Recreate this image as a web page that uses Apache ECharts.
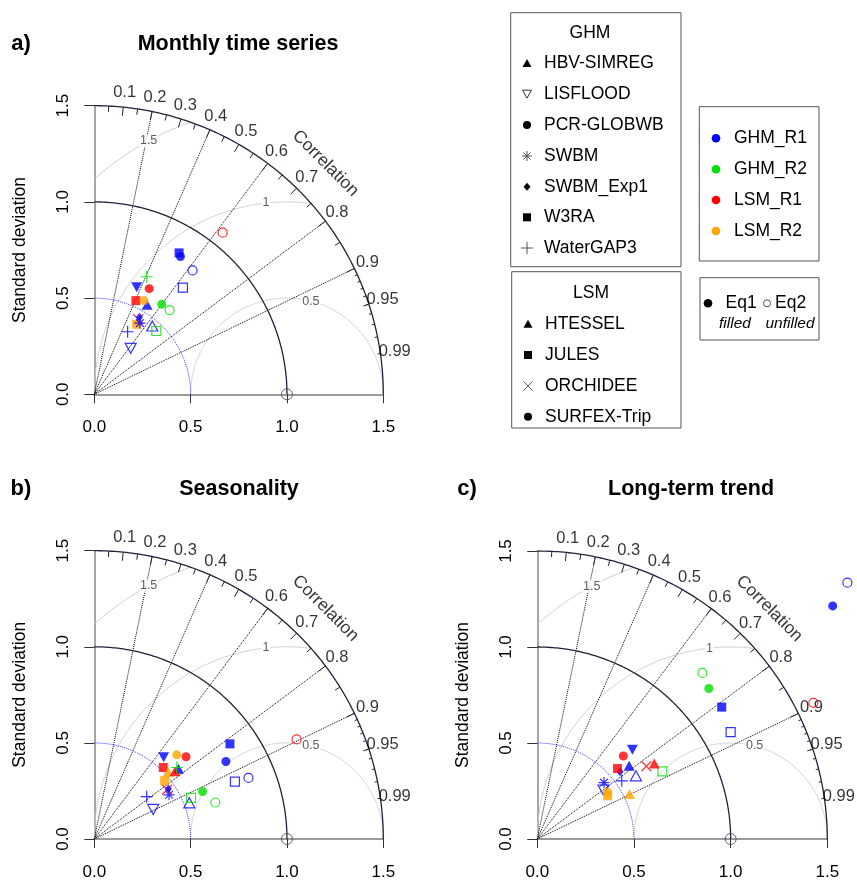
<!DOCTYPE html>
<html><head><meta charset="utf-8">
<script src="https://cdn.jsdelivr.net/npm/echarts@6/dist/echarts.min.js"></script>
<style>html,body{margin:0;padding:0;background:#fff}#c{width:857px;height:881px}</style>
</head><body><div id="c"></div>
<script>
// ---------------- data ----------------
const sdTicks = [0, 0.5, 1.0, 1.5];
const corrLines = [0.2, 0.4, 0.6, 0.8, 0.9];
const corrLabels = [0.1, 0.2, 0.3, 0.4, 0.5, 0.6, 0.7, 0.8, 0.9, 0.95, 0.99];
const corrBigTicks = [0.1, 0.2, 0.3, 0.4, 0.5, 0.6, 0.7, 0.8, 0.9];
const corrMedTicks = [0.05, 0.15, 0.25, 0.35, 0.45, 0.55, 0.65, 0.75, 0.85, 0.95];
const corrSmallTicks = [0.91, 0.92, 0.93, 0.94, 0.95, 0.96, 0.97, 0.98, 0.99];
const rmsLevels = [0.5, 1, 1.5];
const refSd = 1.0;
const maxSd = 1.5;
const panelTitles = ['Monthly time series', 'Seasonality', 'Long-term trend'];
const panelTags = ['a)', 'b)', 'c)'];
const ghmModels = ['HBV-SIMREG', 'LISFLOOD', 'PCR-GLOBWB', 'SWBM', 'SWBM_Exp1', 'W3RA', 'WaterGAP3'];
const lsmModels = ['HTESSEL', 'JULES', 'ORCHIDEE', 'SURFEX-Trip'];
const groupNames = ['GHM_R1', 'GHM_R2', 'LSM_R1', 'LSM_R2'];

// [model, group, equation (1 = Eq1 filled, 2 = Eq2 unfilled), x, y]
const monthlyPoints = [
  ['W3RA', 'GHM_R1', 2, 0.46, 0.554],
  ['PCR-GLOBWB', 'GHM_R1', 2, 0.51, 0.644],
  ['HBV-SIMREG', 'GHM_R1', 2, 0.301, 0.355],
  ['LISFLOOD', 'GHM_R1', 2, 0.189, 0.239],
  ['WaterGAP3', 'GHM_R1', 1, 0.173, 0.325],
  ['HBV-SIMREG', 'GHM_R1', 1, 0.274, 0.466],
  ['LISFLOOD', 'GHM_R1', 1, 0.22, 0.556],
  ['W3RA', 'GHM_R1', 1, 0.44, 0.735],
  ['PCR-GLOBWB', 'GHM_R1', 1, 0.447, 0.716],
  ['WaterGAP3', 'GHM_R2', 1, 0.272, 0.611],
  ['PCR-GLOBWB', 'GHM_R2', 1, 0.35, 0.468],
  ['PCR-GLOBWB', 'GHM_R2', 2, 0.391, 0.438],
  ['W3RA', 'GHM_R2', 2, 0.322, 0.329],
  ['SURFEX-Trip', 'LSM_R1', 2, 0.666, 0.84],
  ['SURFEX-Trip', 'LSM_R1', 1, 0.285, 0.549],
  ['JULES', 'LSM_R1', 1, 0.216, 0.487],
  ['ORCHIDEE', 'LSM_R1', 1, 0.228, 0.39],
  ['JULES', 'LSM_R2', 1, 0.22, 0.364],
  ['SURFEX-Trip', 'LSM_R2', 1, 0.258, 0.487],
  ['SWBM', 'GHM_R1', 1, 0.237, 0.37],
  ['SWBM_Exp1', 'GHM_R1', 1, 0.234, 0.40]
];
const seasonalPoints = [
  ['W3RA', 'GHM_R1', 2, 0.73, 0.298],
  ['PCR-GLOBWB', 'GHM_R1', 2, 0.8, 0.318],
  ['HBV-SIMREG', 'GHM_R1', 2, 0.493, 0.188],
  ['LISFLOOD', 'GHM_R1', 2, 0.306, 0.154],
  ['WaterGAP3', 'GHM_R1', 1, 0.272, 0.22],
  ['SWBM', 'GHM_R1', 1, 0.388, 0.23],
  ['W3RA', 'GHM_R1', 1, 0.704, 0.495],
  ['PCR-GLOBWB', 'GHM_R1', 1, 0.683, 0.403],
  ['LISFLOOD', 'GHM_R1', 1, 0.36, 0.425],
  ['W3RA', 'GHM_R2', 2, 0.502, 0.214],
  ['PCR-GLOBWB', 'GHM_R2', 2, 0.628, 0.19],
  ['PCR-GLOBWB', 'GHM_R2', 1, 0.562, 0.247],
  ['SURFEX-Trip', 'LSM_R1', 2, 1.05, 0.518],
  ['SURFEX-Trip', 'LSM_R1', 1, 0.476, 0.428],
  ['JULES', 'LSM_R1', 1, 0.358, 0.372],
  ['ORCHIDEE', 'LSM_R1', 1, 0.378, 0.256],
  ['SURFEX-Trip', 'LSM_R2', 1, 0.428, 0.438],
  ['HTESSEL', 'LSM_R2', 1, 0.384, 0.35],
  ['JULES', 'LSM_R2', 1, 0.365, 0.304],
  ['HBV-SIMREG', 'GHM_R1', 1, 0.437, 0.366],
  ['HTESSEL', 'LSM_R1', 1, 0.419, 0.352],
  ['WaterGAP3', 'GHM_R2', 1, 0.428, 0.372],
  ['SWBM_Exp1', 'GHM_R1', 1, 0.384, 0.26]
];
const trendPoints = [
  ['PCR-GLOBWB', 'GHM_R1', 2, 1.604, 1.335],
  ['PCR-GLOBWB', 'GHM_R1', 1, 1.528, 1.214],
  ['W3RA', 'GHM_R1', 1, 0.954, 0.687],
  ['W3RA', 'GHM_R1', 2, 1.0, 0.557],
  ['LISFLOOD', 'GHM_R1', 1, 0.492, 0.465],
  ['HBV-SIMREG', 'GHM_R1', 1, 0.475, 0.382],
  ['SWBM_Exp1', 'GHM_R1', 1, 0.428, 0.35],
  ['HBV-SIMREG', 'GHM_R1', 2, 0.51, 0.329],
  ['WaterGAP3', 'GHM_R1', 1, 0.437, 0.303],
  ['SWBM', 'GHM_R1', 1, 0.345, 0.294],
  ['LISFLOOD', 'GHM_R1', 2, 0.342, 0.255],
  ['PCR-GLOBWB', 'GHM_R2', 2, 0.854, 0.865],
  ['PCR-GLOBWB', 'GHM_R2', 1, 0.887, 0.784],
  ['W3RA', 'GHM_R2', 2, 0.647, 0.352],
  ['SURFEX-Trip', 'LSM_R1', 2, 1.428, 0.709],
  ['SURFEX-Trip', 'LSM_R1', 1, 0.445, 0.432],
  ['JULES', 'LSM_R1', 1, 0.415, 0.367],
  ['ORCHIDEE', 'LSM_R1', 1, 0.564, 0.379],
  ['HTESSEL', 'LSM_R1', 1, 0.605, 0.393],
  ['JULES', 'LSM_R2', 1, 0.364, 0.225],
  ['SURFEX-Trip', 'LSM_R2', 1, 0.364, 0.243],
  ['HTESSEL', 'LSM_R2', 1, 0.477, 0.235]
];

// ---------------- styles / layout ----------------
const FONT = '"Liberation Sans", Arial, Helvetica, sans-serif';
const groupColor = { GHM_R1: '#0000ff', GHM_R2: '#00e000', LSM_R1: '#ff0000', LSM_R2: '#ffa500' };
const modelShape = {
  'HBV-SIMREG': 'tri', 'HTESSEL': 'tri', 'LISFLOOD': 'invtri', 'PCR-GLOBWB': 'circle',
  'SURFEX-Trip': 'circle', 'SWBM': 'asterisk', 'SWBM_Exp1': 'diamond', 'W3RA': 'square',
  'JULES': 'square', 'WaterGAP3': 'plus', 'ORCHIDEE': 'cross'
};
const legendShapeGHM = { 'HBV-SIMREG': ['tri', true], 'LISFLOOD': ['invtri', false], 'PCR-GLOBWB': ['circle', true],
  'SWBM': ['asterisk', true], 'SWBM_Exp1': ['diamond', true], 'W3RA': ['square', true], 'WaterGAP3': ['plus', true] };
const legendShapeLSM = { 'HTESSEL': ['tri', true], 'JULES': ['square', true], 'ORCHIDEE': ['cross', true], 'SURFEX-Trip': ['circle', true] };

const panelLayout = [
  { grid: { left: 94.3, top: 105.7, width: 289, height: 288.6 }, titleX: 238, titleY: 44, tagX: 21 },
  { grid: { left: 94.3, top: 550.7, width: 289, height: 288.6 }, titleX: 239, titleY: 489, tagX: 21 },
  { grid: { left: 537.3, top: 551, width: 290, height: 289 }, titleX: 691, titleY: 489, tagX: 467 }
];
const panelPoints = [monthlyPoints, seasonalPoints, trendPoints];

const PATHS = {
  plus: 'path://M5,0L5,10M0,5L10,5',
  cross: 'path://M0,0L10,10M10,0L0,10',
  asterisk: 'path://M5,0L5,10M0,5L10,5M1.5,1.5L8.5,8.5M8.5,1.5L1.5,8.5'
};

function pointItem(p) {
  const [model, group, eq, x, y] = p;
  const c = groupColor[group];
  const shape = modelShape[model];
  const filled = eq === 1;
  const fillStyle = filled ? { color: c, borderWidth: 0 } : { color: 'none', borderColor: c, borderWidth: 1.2 };
  const item = { value: [x, y], name: model + ' ' + group };
  switch (shape) {
    case 'circle': item.symbol = 'circle'; item.symbolSize = 9; item.itemStyle = fillStyle; break;
    case 'square': item.symbol = 'rect'; item.symbolSize = 9; item.itemStyle = fillStyle; break;
    case 'tri': item.symbol = 'triangle'; item.symbolSize = [11, 10]; item.itemStyle = fillStyle; break;
    case 'invtri': item.symbol = 'triangle'; item.symbolSize = [11, 10]; item.symbolRotate = 180; item.itemStyle = fillStyle; break;
    case 'diamond': item.symbol = 'diamond'; item.symbolSize = [7, 9]; item.itemStyle = { color: c }; break;
    default:
      item.symbol = PATHS[shape];
      item.symbolSize = shape === 'plus' ? 12 : (shape === 'cross' ? 10 : 11);
      item.itemStyle = { color: 'none', borderColor: c, borderWidth: 1.2 };
  }
  return item;
}

function polar(sd, r) { return [sd * r, sd * Math.sqrt(Math.max(0, 1 - r * r))]; }
function arc(cx, cy, rad, t0, t1, step) {
  const out = [];
  for (let t = t0; t <= t1 + 1e-9; t += step) out.push([cx + rad * Math.cos(t), cy + rad * Math.sin(t)]);
  out.push([cx + rad * Math.cos(t1), cy + rad * Math.sin(t1)]);
  return out;
}
function rmsArc(g) {
  const pts = [];
  for (let t = 0; t <= Math.PI + 1e-9; t += 0.004) {
    const x = refSd + g * Math.cos(t), y = g * Math.sin(t);
    if (x >= 0 && x * x + y * y <= maxSd * maxSd + 1e-9) pts.push([x, y]);
  }
  return pts;
}
const rmsLabelAngles = [1.32, 1.68, 2.07];

const grids = [], xAxes = [], yAxes = [], series = [], graphics = [];
panelLayout.forEach((L, i) => {
  grids.push(Object.assign({}, L.grid));
  xAxes.push({
    type: 'value', gridIndex: i, min: 0, max: 1.5, interval: 0.5,
    axisLine: { show: true, lineStyle: { color: '#9a9a9a', width: 2 } },
    axisTick: { show: true, length: 9, lineStyle: { color: '#333', width: 1 } },
    axisLabel: { formatter: v => v.toFixed(1), fontSize: 17, color: '#000', fontFamily: FONT, margin: 25, showMinLabel: true, showMaxLabel: true },
    splitLine: { show: false }
  });
  yAxes.push({
    type: 'value', gridIndex: i, min: 0, max: 1.5, interval: 0.5,
    name: 'Standard deviation', nameLocation: 'middle', nameRotate: 90, nameGap: 65,
    nameTextStyle: { fontSize: 17.5, color: '#000', fontFamily: FONT },
    axisLine: { show: true, lineStyle: { color: '#888', width: 1.5 } },
    axisTick: { show: true, length: 10, lineStyle: { color: '#333', width: 1 } },
    axisLabel: { formatter: v => v.toFixed(1), fontSize: 17, color: '#000', fontFamily: FONT, rotate: 90, margin: 22, showMinLabel: true, showMaxLabel: true },
    splitLine: { show: false }
  });
  const base = { xAxisIndex: i, yAxisIndex: i, silent: true, animation: false };
  series.push(Object.assign({ type: 'lines', coordinateSystem: 'cartesian2d', polyline: true, z: 1,
    lineStyle: { color: '#cccccc', width: 1, opacity: 1 },
    data: rmsLevels.map(g => ({ coords: rmsArc(g) })) }, base));
  series.push(Object.assign({ type: 'lines', coordinateSystem: 'cartesian2d', z: 2,
    lineStyle: { color: '#000', width: 1, type: 'dotted', opacity: 1 },
    data: corrLines.map(r => ({ coords: [[0, 0], polar(maxSd, r)] })) }, base));
  series.push(Object.assign({ type: 'lines', coordinateSystem: 'cartesian2d', polyline: true, z: 2,
    lineStyle: { color: '#3333ff', width: 1, type: 'dotted', opacity: 1 },
    data: [{ coords: arc(0, 0, 0.5, 0, Math.PI / 2, 0.01) }] }, base));
  series.push(Object.assign({ type: 'lines', coordinateSystem: 'cartesian2d', polyline: true, z: 2,
    lineStyle: { color: '#22223a', width: 1.3, opacity: 1 },
    data: [{ coords: arc(0, 0, refSd, 0, Math.PI / 2, 0.01) }, { coords: arc(0, 0, maxSd, 0, Math.PI / 2, 0.01) }] }, base));
  const tickSegs = [];
  corrBigTicks.forEach(r => tickSegs.push({ coords: [polar(maxSd, r), polar(maxSd * 0.97, r)] }));
  corrMedTicks.forEach(r => tickSegs.push({ coords: [polar(maxSd, r), polar(maxSd * 0.98, r)] }));
  corrSmallTicks.forEach(r => tickSegs.push({ coords: [polar(maxSd, r), polar(maxSd * 0.99, r)] }));
  series.push(Object.assign({ type: 'lines', coordinateSystem: 'cartesian2d', z: 2,
    lineStyle: { color: '#22223a', width: 1, opacity: 1 }, data: tickSegs }, base));
  series.push(Object.assign({ type: 'scatter', clip: false, z: 3, symbolSize: 1,
    itemStyle: { color: 'rgba(0,0,0,0)' },
    label: { show: true, position: 'inside', formatter: '{b}', fontSize: 16.5, color: '#000', fontFamily: FONT },
    data: corrLabels.map(r => ({ name: String(r), value: polar(maxSd * 1.05, r) })) }, base));
  series.push(Object.assign({ type: 'scatter', clip: false, z: 3, symbolSize: 1,
    itemStyle: { color: 'rgba(0,0,0,0)' },
    label: { show: true, position: 'inside', formatter: '{b}', fontSize: 17.5, color: '#000', fontFamily: FONT, rotate: -45 },
    data: [{ name: 'Correlation', value: [maxSd * 0.8, maxSd * 0.8] }] }, base));
  series.push(Object.assign({ type: 'scatter', clip: false, z: 3, symbolSize: 1,
    itemStyle: { color: 'rgba(0,0,0,0)' },
    label: { show: true, position: 'inside', formatter: '{b}', fontSize: 12.5, color: '#333', fontFamily: FONT,
      backgroundColor: '#fff', padding: [0, 1] },
    data: rmsLevels.map((g, k) => ({ name: String(g), value: [refSd + g * Math.cos(rmsLabelAngles[k]), g * Math.sin(rmsLabelAngles[k])] })) }, base));
  series.push(Object.assign({ type: 'scatter', clip: false, z: 4, symbol: 'circle', symbolSize: 11,
    itemStyle: { color: 'none', borderColor: '#444', borderWidth: 1 },
    data: [[refSd, 0]] }, base));
  series.push(Object.assign({ type: 'scatter', clip: false, z: 5, data: panelPoints[i].map(pointItem) }, base));

  graphics.push({ type: 'text', x: L.tagX, y: L.titleY, style: { text: panelTags[i], font: 'bold 22px ' + FONT, fill: '#000', textAlign: 'center', textVerticalAlign: 'middle', align: 'center', verticalAlign: 'middle' } });
  graphics.push({ type: 'text', x: L.titleX, y: L.titleY, style: { text: panelTitles[i], font: 'bold 21.5px ' + FONT, fill: '#000', textAlign: 'center', textVerticalAlign: 'middle', align: 'center', verticalAlign: 'middle' } });
});

// ---------------- legends (graphic) ----------------
function txt(x, y, s, opts) {
  opts = opts || {};
  return { type: 'text', x: x, y: y, style: { text: s, font: (opts.font || '17.5px ') + FONT, fill: '#000',
    textAlign: opts.align || 'left', textVerticalAlign: 'middle', align: opts.align || 'left', verticalAlign: 'middle' } };
}
function box(x0, y0, x1, y1) {
  return { type: 'rect', shape: { x: x0, y: y0, width: x1 - x0, height: y1 - y0 }, style: { fill: '#fff', stroke: '#555', lineWidth: 1 } };
}
function legSym(shape, filled, cx, cy, color) {
  const st = filled ? { fill: color } : { fill: 'none', stroke: color, lineWidth: 1 };
  const ln = (x1, y1, x2, y2) => ({ type: 'line', shape: { x1: cx + x1, y1: cy + y1, x2: cx + x2, y2: cy + y2 }, style: { stroke: color, lineWidth: 1 } });
  switch (shape) {
    case 'tri': return [{ type: 'polygon', shape: { points: [[cx - 4.5, cy + 3.8], [cx + 4.5, cy + 3.8], [cx, cy - 4.2]] }, style: st }];
    case 'invtri': return [{ type: 'polygon', shape: { points: [[cx - 4.5, cy - 3.8], [cx + 4.5, cy - 3.8], [cx, cy + 4.2]] }, style: { fill: 'none', stroke: '#333', lineWidth: 1 } }];
    case 'circle': return [{ type: 'circle', shape: { cx: cx, cy: cy, r: 4 }, style: st }];
    case 'square': return [{ type: 'rect', shape: { x: cx - 4, y: cy - 4, width: 8, height: 8 }, style: st }];
    case 'diamond': return [{ type: 'polygon', shape: { points: [[cx, cy - 4], [cx + 3.5, cy], [cx, cy + 4], [cx - 3.5, cy]] }, style: st }];
    case 'plus': return [ln(-6, 0, 6, 0), ln(0, -6, 0, 6)].map(e => (e.style.stroke = '#555', e));
    case 'cross': return [ln(-4.5, -4.5, 4.5, 4.5), ln(4.5, -4.5, -4.5, 4.5)].map(e => (e.style.stroke = '#555', e));
    case 'asterisk': return [ln(-5, 0, 5, 0), ln(0, -5, 0, 5), ln(-3.6, -3.6, 3.6, 3.6), ln(3.6, -3.6, -3.6, 3.6)].map(e => (e.style.stroke = '#555', e));
  }
  return [];
}

graphics.push(box(510.7, 12.7, 681, 266.7));
graphics.push(txt(590, 33, 'GHM', { align: 'center' }));
const ghmY = [63.3, 94, 125, 156, 186.7, 217.3, 248];
ghmModels.forEach((m, k) => {
  const s = legendShapeGHM[m];
  legSym(s[0], s[1], 527, ghmY[k], '#000').forEach(e => graphics.push(e));
  graphics.push(txt(544, ghmY[k], m));
});
graphics.push(box(511.7, 271.7, 681, 428));
graphics.push(txt(591, 293.5, 'LSM', { align: 'center' }));
const lsmY = [324, 355, 386, 416.7];
lsmModels.forEach((m, k) => {
  const s = legendShapeLSM[m];
  legSym(s[0], s[1], 528, lsmY[k], '#000').forEach(e => graphics.push(e));
  graphics.push(txt(545, lsmY[k], m));
});
graphics.push(box(699.3, 106.7, 819, 261));
const grpY = [138.3, 169.3, 200, 231];
groupNames.forEach((g, k) => {
  graphics.push({ type: 'circle', shape: { cx: 716, cy: grpY[k], r: 4.3 }, style: { fill: groupColor[g] } });
  graphics.push(txt(734, grpY[k], g));
});
graphics.push(box(700, 277.7, 819, 340));
graphics.push({ type: 'circle', shape: { cx: 708, cy: 303.3, r: 4.3 }, style: { fill: '#000' } });
graphics.push(txt(725.5, 303.3, 'Eq1'));
graphics.push({ type: 'circle', shape: { cx: 767, cy: 303.3, r: 3.5 }, style: { fill: 'none', stroke: '#555', lineWidth: 1 } });
graphics.push(txt(775, 303.3, 'Eq2'));
graphics.push(txt(735, 323.5, 'filled', { align: 'center', font: 'italic 15.5px ' }));
graphics.push(txt(790, 323.5, 'unfilled', { align: 'center', font: 'italic 15.5px ' }));

const chart = echarts.init(document.getElementById('c'));
chart.setOption({
  animation: false,
  backgroundColor: '#fff',
  grid: grids,
  xAxis: xAxes,
  yAxis: yAxes,
  series: series,
  graphic: { elements: graphics }
});
</script>
</body></html>
